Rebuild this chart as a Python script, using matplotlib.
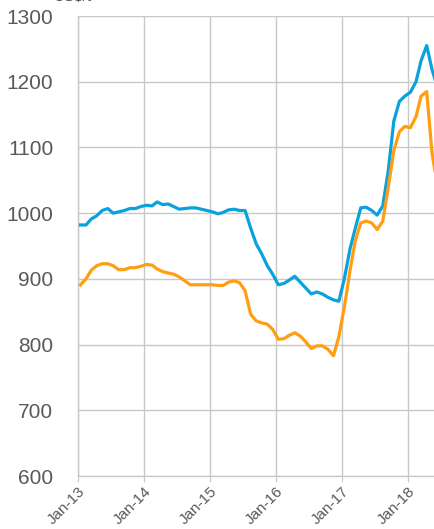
import matplotlib
matplotlib.use("Agg")
import matplotlib.pyplot as plt
import matplotlib.dates as mdates
import numpy as np
import pandas as pd

# Monthly prices, Jan 2013 onwards (US$/t)
months = pd.date_range("2013-01-01", periods=66, freq="MS") + pd.Timedelta(days=12)

series_blue = [
    982, 982, 991, 996, 1004, 1007, 1000, 1002, 1004, 1007, 1007, 1010,
    1012, 1011, 1017, 1013, 1014, 1010, 1006, 1007, 1008, 1008, 1006, 1004,
    1002, 999, 1001, 1005, 1006, 1004, 1004, 977, 953, 938, 920, 907,
    891, 893, 898, 904, 895, 886, 877, 880, 877, 872, 868, 866,
    901, 946, 976, 1008, 1009, 1004, 997, 1011, 1066, 1140, 1170, 1178,
    1184, 1200, 1232, 1255, 1218, 1190,
]

series_orange = [
    891, 900, 913, 920, 923, 923, 920, 914, 914, 917, 917, 919,
    922, 921, 915, 911, 909, 907, 903, 897, 891, 891, 891, 891,
    891, 890, 890, 895, 897, 894, 882, 846, 836, 833, 831, 823,
    808, 809, 814, 818, 813, 804, 794, 798, 798, 793, 783, 812,
    858, 913, 957, 985, 988, 985, 975, 988, 1040, 1095, 1124, 1132,
    1130, 1147, 1178, 1185, 1090, 1040,
]

year_ticks = pd.date_range("2013-01-01", "2018-01-01", freq="YS")
year_labels = ["Jan-13", "Jan-14", "Jan-15", "Jan-16", "Jan-17", "Jan-18"]
y_ticks = [600, 700, 800, 900, 1000, 1100, 1200, 1300]

plt.rcParams["font.family"] = ["Liberation Sans", "DejaVu Sans"]

W, H = 434, 529
fig = plt.figure(figsize=(W / 100, H / 100), dpi=100)
left_px, top_px, bottom_px = 78.3, 16, 476
ax = fig.add_axes([left_px / W, (H - bottom_px) / H,
                   1 - left_px / W, (bottom_px - top_px) / H])

grid_c = "#c8c8c8"
text_c = "#595959"

ax.plot(months, series_blue, color="#0aa1dd", lw=2.3, solid_joinstyle="round", zorder=3)
ax.plot(months, series_orange, color="#ff9e12", lw=2.3, solid_joinstyle="round", zorder=3)

x0 = mdates.date2num(pd.Timestamp("2013-01-01"))
px_per_day = 66 / 365.25
ax.set_xlim(x0, x0 + (W - left_px) / px_per_day)
ax.set_ylim(600, 1300)

ax.set_xticks(year_ticks)
ax.set_xticklabels(year_labels, rotation=45, ha="right", va="top",
                   rotation_mode="anchor", fontsize=11, color=text_c)
ax.set_yticks(y_ticks)
ax.set_yticklabels([str(v) for v in y_ticks], fontsize=15, color=text_c)

ax.grid(True, color=grid_c, lw=1.0)
ax.set_axisbelow(True)
for s in ["top", "right"]:
    ax.spines[s].set_visible(False)
for s in ["left", "bottom"]:
    ax.spines[s].set_color(grid_c)
    ax.spines[s].set_linewidth(1.0)
ax.tick_params(axis="x", length=4, color=grid_c, pad=2)
ax.tick_params(axis="y", length=0, pad=18)

fig.text(0.125, 1 - 1.5 / H, "US$/t", fontsize=11, color=text_c, va="baseline")

fig.savefig("out.png", dpi=100)
